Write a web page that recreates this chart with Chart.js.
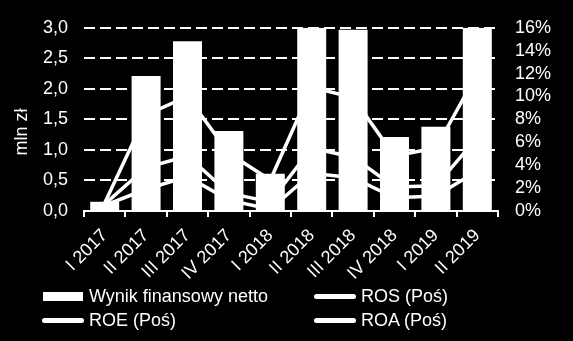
<!DOCTYPE html>
<html>
<head>
<meta charset="utf-8">
<script src="https://cdn.jsdelivr.net/npm/chart.js@4"></script>
<style>
  html, body { margin: 0; padding: 0; background: #000; overflow: hidden; }
  #wrap { position: relative; width: 573px; height: 341px; }
  #chart { display: block; }
  #legend {
    position: absolute; left: 42px; top: 284px;
    display: grid; grid-template-columns: 272px 240px; grid-auto-rows: 24.5px;
    font: 18px "Liberation Sans", Arial, sans-serif; color: #fff;
  }
  .item { display: flex; align-items: center; white-space: nowrap; }
  .sw-box { width: 40px; height: 9px; background: #fff; margin-left: 1px; margin-right: 6px; }
  .sw-line { width: 42px; height: 5px; border-radius: 3px; background: #fff; margin-right: 5px; }
</style>
</head>
<body>
<div id="wrap">
  <canvas id="chart" width="573" height="341"></canvas>
  <div id="legend"></div>
</div>
<script>
  // dane z wykresu
  const categories = ["I 2017", "II 2017", "III 2017", "IV 2017", "I 2018", "II 2018", "III 2018", "IV 2018", "I 2019", "II 2019"];
  const wynik = [0.15, 2.21, 2.78, 1.31, 0.61, 3.0, 2.97, 1.21, 1.38, 3.0];
  const ros = [0.6, 3.8, 4.8, 1.55, 0.8, 5.5, 4.7, 2.1, 2.2, 6.4];
  const roe = [0.7, 8.4, 10.0, 5.05, 2.7, 10.8, 9.9, 4.8, 5.5, 12.0];
  const roa = [0.5, 1.9, 3.0, 0.95, 0.15, 3.3, 2.9, 1.15, 1.3, 3.5];
  const leftTicks = [0, 0.5, 1, 1.5, 2, 2.5, 3];
  const rightTicks = [0, 2, 4, 6, 8, 10, 12, 14, 16];
  const yTitle = "mln zł";

  const font = { family: '"Liberation Sans", Arial, sans-serif', size: 18 };

  // przerywane linie siatki - kreski rysowane odcinkami (setLineDash nie dziala tu)
  const dashedGrid = {
    id: "dashedGrid",
    beforeDatasetsDraw(chart) {
      const c = chart.ctx;
      const y = chart.scales.y;
      const area = chart.chartArea;
      const dash = 11, gap = 5;
      c.save();
      c.fillStyle = "#fff";
      y.ticks.forEach(t => {
        if (t.value === 0) return;
        const py = Math.round(y.getPixelForValue(t.value));
        for (let x = area.left; x < area.right; x += dash + gap) {
          c.fillRect(x, py - 1, Math.min(dash, area.right - x), 2);
        }
      });
      c.restore();
    }
  };

  // tytul osi Y rysowany recznie (nie jest wysrodkowany wzgledem osi)
  const axisTitle = {
    id: "axisTitle",
    afterDraw(chart) {
      const c = chart.ctx;
      c.save();
      c.translate(22, 132);
      c.rotate(-Math.PI / 2);
      c.font = '18px "Liberation Sans", Arial, sans-serif';
      c.fillStyle = "#fff";
      c.textAlign = "center";
      c.textBaseline = "middle";
      c.fillText(yTitle, 0, 0);
      c.restore();
    }
  };

  const lineDs = (label, data) => ({
    type: "line", label: label, data: data, yAxisID: "y1",
    borderColor: "#fff", borderWidth: 3.5, pointRadius: 0, tension: 0, order: 1
  });

  const chart = new Chart(document.getElementById("chart"), {
    data: {
      labels: categories,
      datasets: [
        { type: "bar", label: "Wynik finansowy netto", data: wynik, yAxisID: "y",
          backgroundColor: "#fff", categoryPercentage: 1, barPercentage: 0.7, order: 0 },
        lineDs("ROS (Poś)", ros),
        lineDs("ROE (Poś)", roe),
        lineDs("ROA (Poś)", roa)
      ]
    },
    options: {
      responsive: false,
      animation: false,
      layout: { padding: { top: 20, left: 0, right: 0, bottom: 0 } },
      plugins: { legend: { display: false }, tooltip: { enabled: false } },
      scales: {
        x: {
          grid: { drawOnChartArea: false, drawTicks: true, tickLength: 6, color: "#fff", lineWidth: 2, offset: true },
          border: { display: true, color: "#fff", width: 2 },
          ticks: { color: "#fff", font: font, minRotation: 45, maxRotation: 45, autoSkip: false, padding: 8 },
          afterFit: (s) => { s.height = 130; }
        },
        y: {
          position: "left", min: 0, max: 3,
          afterBuildTicks: (s) => { s.ticks = leftTicks.map(v => ({ value: v })); },
          ticks: { color: "#fff", font: font, padding: 16, autoSkip: false,
                   callback: (v) => v.toFixed(1).replace(".", ",") },
          grid: { drawOnChartArea: false, drawTicks: false },
          border: { display: false },
          afterFit: (s) => { s.width = 84; }
        },
        y1: {
          position: "right", min: 0, max: 16,
          afterBuildTicks: (s) => { s.ticks = rightTicks.map(v => ({ value: v })); },
          ticks: { color: "#fff", font: font, padding: 17, autoSkip: false, callback: (v) => v + "%" },
          grid: { drawOnChartArea: false, drawTicks: false },
          border: { display: false },
          afterFit: (s) => { s.width = 75; }
        }
      }
    },
    plugins: [dashedGrid, axisTitle]
  });

  // legenda w dwoch kolumnach
  const legend = document.getElementById("legend");
  chart.data.datasets.forEach(ds => {
    const item = document.createElement("div");
    item.className = "item";
    const sw = document.createElement("span");
    sw.className = ds.type === "bar" ? "sw-box" : "sw-line";
    item.appendChild(sw);
    item.appendChild(document.createTextNode(ds.label));
    legend.appendChild(item);
  });
</script>
</body>
</html>
